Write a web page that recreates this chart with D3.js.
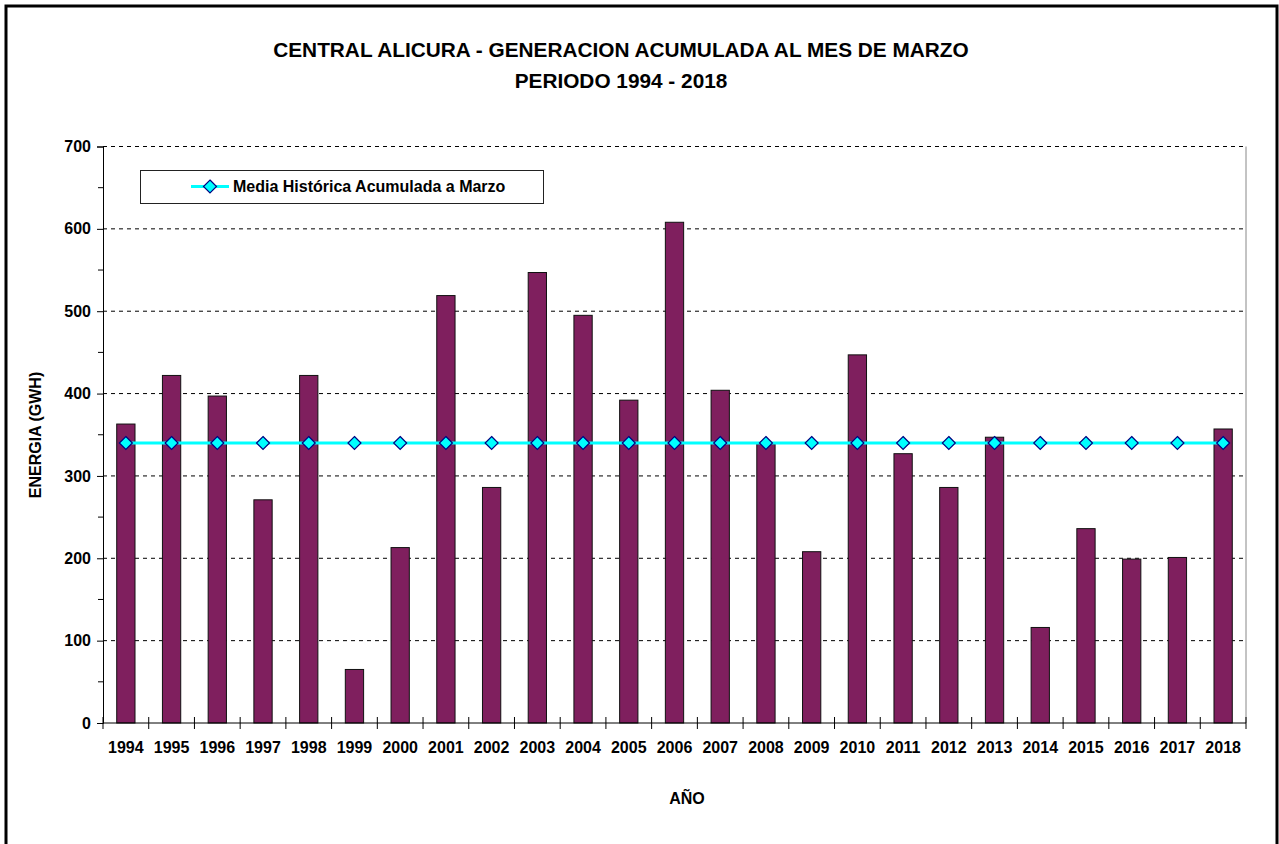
<!DOCTYPE html>
<html><head><meta charset="utf-8">
<script src="https://cdn.jsdelivr.net/npm/d3@7/dist/d3.min.js"></script>
<style>body{margin:0;background:#fff}svg{display:block}text{font-family:Arial,"Liberation Sans",sans-serif;font-weight:bold;fill:#000}</style>
</head><body><svg id="c" width="1279" height="844"></svg>
<script>
const years = ["1994","1995","1996","1997","1998","1999","2000","2001","2002","2003","2004","2005","2006","2007","2008","2009","2010","2011","2012","2013","2014","2015","2016","2017","2018"];
const energia = [363,422,397,271,422,65,213,519,286,547,495,392,608,404,339,208,447,327,286,347,116,236,199,201,357];
const mediaHistorica = [340,340,340,340,340,340,340,340,340,340,340,340,340,340,340,340,340,340,340,340,340,340,340,340,340];
const yTicks = [0,100,200,300,400,500,600,700];
const yMinorTicks = [50,150,250,350,450,550,650];
const titleLines = ["CENTRAL ALICURA - GENERACION ACUMULADA AL MES DE MARZO","PERIODO 1994 - 2018"];
const legendLabel = "Media Histórica Acumulada a Marzo";

const svg = d3.select("#c");
const L = 103, R = 1246, T = 146.5, B = 723;
const FS = "16px";
const x = d3.scaleBand().domain(years).range([L, R]).padding(0);
const y = d3.scaleLinear().domain([0, 700]).range([B, T]);

// outer border
svg.append("rect").attr("x",6).attr("y",6).attr("width",1271).attr("height",860)
  .attr("fill","#fff").attr("stroke","#000").attr("stroke-width",3);

// title
svg.selectAll("text.title").data(titleLines).join("text").attr("class","title")
  .attr("x",621).attr("y",(d,i)=>57+i*31).attr("text-anchor","middle")
  .style("font-size","20.8px").text(d=>d);

// gridlines
svg.append("g").selectAll("line").data(yTicks.filter(d=>d>0)).join("line")
  .attr("x1",L).attr("x2",R).attr("y1",d=>y(d)).attr("y2",d=>y(d))
  .attr("stroke","#000").attr("stroke-width",1).attr("stroke-dasharray","4,4");

// plot right border
svg.append("line").attr("x1",R).attr("x2",R).attr("y1",T).attr("y2",B).attr("stroke","#888").attr("stroke-width",1);

// bars
const bw = x.bandwidth()*0.4;
svg.append("g").selectAll("rect").data(years).join("rect")
  .attr("x",d=>x(d)+x.bandwidth()/2-bw/2).attr("width",bw)
  .attr("y",(d,i)=>y(energia[i])).attr("height",(d,i)=>y(0)-y(energia[i]))
  .attr("fill","#7f1f5e").attr("stroke","#111").attr("stroke-width",1);

// y axis
const yAxis = d3.axisLeft(y).tickValues(yTicks).tickSize(6).tickPadding(6);
const ga = svg.append("g").attr("transform",`translate(${L},0)`).call(yAxis);
ga.select(".domain").attr("stroke","#000");
ga.selectAll(".tick line").attr("stroke","#000");
ga.selectAll(".tick text").style("font-size",FS).style("font-family","Arial,'Liberation Sans',sans-serif").style("font-weight","bold").attr("fill","#000");
svg.append("g").selectAll("line").data(yMinorTicks).join("line")
  .attr("x1",L-5).attr("x2",L).attr("y1",d=>y(d)).attr("y2",d=>y(d)).attr("stroke","#000");

// x axis
const xb = svg.append("g");
xb.append("line").attr("x1",L).attr("x2",R).attr("y1",B).attr("y2",B).attr("stroke","#000");
const bounds = years.map(d=>x(d)).concat([R]);
xb.selectAll("line.t").data(bounds).join("line").attr("class","t")
  .attr("x1",d=>d).attr("x2",d=>d).attr("y1",B-6).attr("y2",B+6).attr("stroke","#000");
xb.selectAll("text").data(years).join("text")
  .attr("x",d=>x(d)+x.bandwidth()/2).attr("y",753).attr("text-anchor","middle")
  .style("font-size",FS).text(d=>d);

// mean line
const line = d3.line().x((d,i)=>x(years[i])+x.bandwidth()/2).y(d=>y(d));
svg.append("path").datum(mediaHistorica).attr("d",line).attr("fill","none")
  .attr("stroke","#00ffff").attr("stroke-width",3);
const diamond = "M0,-6.5L6.5,0L0,6.5L-6.5,0Z";
svg.append("g").selectAll("path").data(mediaHistorica).join("path")
  .attr("transform",(d,i)=>`translate(${x(years[i])+x.bandwidth()/2},${y(d)})`)
  .attr("d",diamond).attr("fill","#00ffff").attr("stroke","#000080").attr("stroke-width",1.2);

// axis titles
svg.append("text").attr("transform","translate(40.5,435) rotate(-90)").attr("text-anchor","middle")
  .style("font-size",FS).text("ENERGIA (GWH)");
svg.append("text").attr("x",687).attr("y",804).attr("text-anchor","middle")
  .style("font-size",FS).text("AÑO");

// legend
const lg = svg.append("g");
lg.append("rect").attr("x",140.5).attr("y",170.5).attr("width",403).attr("height",33)
  .attr("fill","#fff").attr("stroke","#222").attr("stroke-width",1);
lg.append("line").attr("x1",191).attr("x2",229).attr("y1",186.5).attr("y2",186.5)
  .attr("stroke","#00ffff").attr("stroke-width",3);
lg.append("path").attr("transform","translate(210,186.5)").attr("d",diamond)
  .attr("fill","#00ffff").attr("stroke","#000080").attr("stroke-width",1.2);
lg.append("text").attr("x",233).attr("y",192).style("font-size",FS).text(legendLabel);
</script></body></html>
